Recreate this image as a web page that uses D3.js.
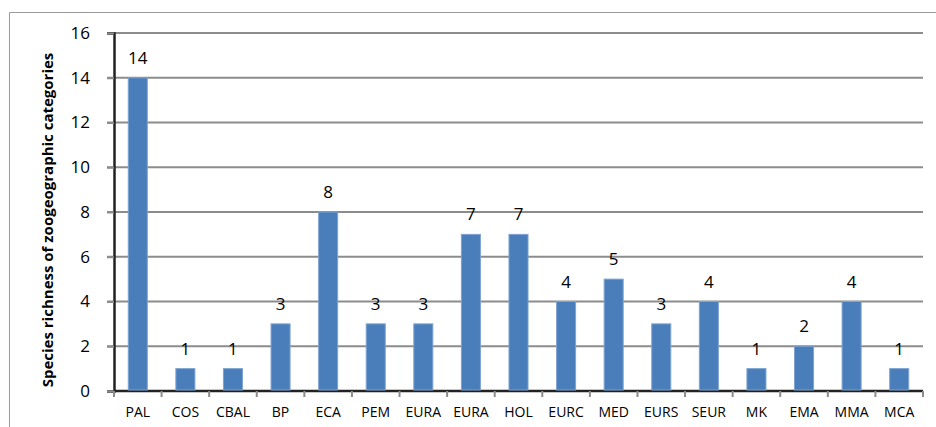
<!DOCTYPE html>
<html>
<head>
<meta charset="utf-8">
<script src="https://cdn.jsdelivr.net/npm/d3@7"></script>
<style>
  body { margin: 0; background: #fff; }
  svg { display: block; }
</style>
</head>
<body>
<div id="chart"></div>
<script>
// data
var categories = ["PAL", "COS", "CBAL", "BP", "ECA", "PEM", "EURA", "EURA", "HOL",
  "EURC", "MED", "EURS", "SEUR", "MK", "EMA", "MMA", "MCA"];
var richness = [14, 1, 1, 3, 8, 3, 3, 7, 7, 4, 5, 3, 4, 1, 2, 4, 1];
var yTicks = [0, 2, 4, 6, 8, 10, 12, 14, 16];

var W = 936, H = 427;
var margin = { top: 33, right: 13, bottom: 36, left: 114 },
  width = W - margin.left - margin.right,
  height = H - margin.top - margin.bottom;

var data = categories.map(function (c, i) {
  return { idx: i, cat: c, value: richness[i] };
});

var svg = d3.select("#chart").append("svg")
  .attr("width", W)
  .attr("height", H);

// outer frame (only top and left visible)
svg.append("path")
  .attr("d", "M9.5," + H + "V12.5H" + W)
  .attr("fill", "none")
  .attr("stroke", "#9a9a9a")
  .attr("stroke-width", 1);

var g = svg.append("g")
  .attr("transform", "translate(" + margin.left + "," + margin.top + ")");

var x = d3.scaleBand()
  .domain(d3.range(categories.length))
  .range([0, width])
  .paddingInner(0.6)
  .paddingOuter(0.3);

var y = d3.scaleLinear().domain([0, 16]).range([height, 0]);

// gridlines
g.selectAll(".grid")
  .data(yTicks.filter(function (d) { return d > 0; }))
  .join("line")
  .attr("class", "grid")
  .attr("x1", -7)
  .attr("x2", width)
  .attr("y1", function (d) { return y(d); })
  .attr("y2", function (d) { return y(d); })
  .attr("stroke", "#8c8c8c")
  .attr("stroke-width", 2);

// y axis
var yAxis = g.append("g")
  .call(d3.axisLeft(y).tickValues(yTicks).tickSize(7).tickPadding(17));
yAxis.select(".domain").attr("stroke", "#222").attr("stroke-width", 2.5);
yAxis.selectAll(".tick line").attr("stroke", "#8c8c8c").attr("stroke-width", 2);
yAxis.selectAll("text")
  .style("font-family", "'Open Sans', sans-serif")
  .style("font-size", "17px")
  .attr("fill", "#000");

// x axis
var xEdges = d3.range(categories.length + 1).map(function (i) {
  return i * x.step();
});
var xAxis = g.append("g").attr("transform", "translate(0," + height + ")");
xAxis.append("line")
  .attr("x1", 0).attr("x2", width)
  .attr("stroke", "#222").attr("stroke-width", 2.5);
xAxis.selectAll(".xtick")
  .data(xEdges)
  .join("line")
  .attr("class", "xtick")
  .attr("x1", function (d) { return d; })
  .attr("x2", function (d) { return d; })
  .attr("y1", 0).attr("y2", 6)
  .attr("stroke", "#8c8c8c").attr("stroke-width", 2);
xAxis.selectAll(".xlab")
  .data(data)
  .join("text")
  .attr("class", "xlab")
  .attr("x", function (d) { return x(d.idx) + x.bandwidth() / 2; })
  .attr("y", 26)
  .attr("text-anchor", "middle")
  .style("font-family", "'Open Sans', sans-serif")
  .style("font-size", "14px")
  .attr("fill", "#000")
  .text(function (d) { return d.cat; });

// bars
g.selectAll(".bar")
  .data(data)
  .join("rect")
  .attr("class", "bar")
  .attr("x", function (d) { return x(d.idx); })
  .attr("y", function (d) { return y(d.value); })
  .attr("width", x.bandwidth())
  .attr("height", function (d) { return height - y(d.value) - 1; })
  .attr("fill", "#4a7ebb")
  .attr("stroke", "#7ea3d1")
  .attr("stroke-width", 1);

// value labels
g.selectAll(".val")
  .data(data)
  .join("text")
  .attr("class", "val")
  .attr("x", function (d) { return x(d.idx) + x.bandwidth() / 2; })
  .attr("y", function (d) { return y(d.value) - 14; })
  .attr("text-anchor", "middle")
  .style("font-family", "'Open Sans', sans-serif")
  .style("font-size", "17px")
  .attr("fill", "#000")
  .text(function (d) { return d.value; });

// y axis title
svg.append("text")
  .attr("transform", "translate(53," + (margin.top + height / 2 + 8) + ") rotate(-90)")
  .attr("text-anchor", "middle")
  .style("font-family", "'Open Sans', sans-serif")
  .style("font-size", "15px")
  .style("font-weight", "bold")
  .attr("fill", "#000")
  .text("Species richness of zoogeographic categories");
</script>
</body>
</html>
